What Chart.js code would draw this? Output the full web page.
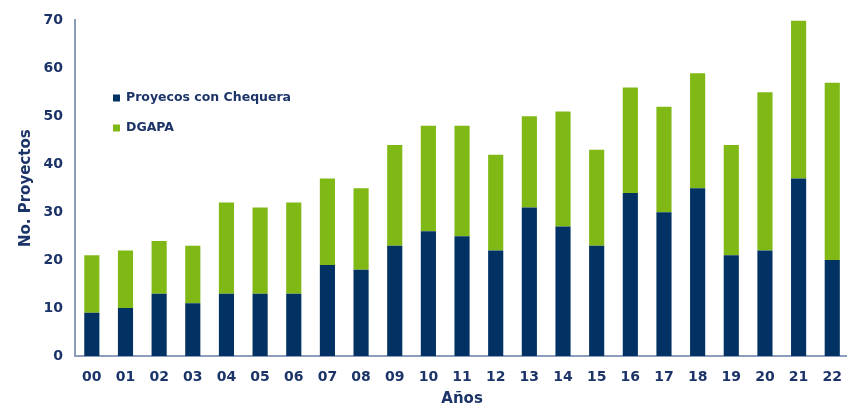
<!DOCTYPE html>
<html>
<head>
<meta charset="utf-8">
<script src="https://cdn.jsdelivr.net/npm/chart.js@4/dist/chart.umd.min.js"></script>
<style>
html,body{margin:0;padding:0;background:#fff;overflow:hidden;}
#wrap{position:relative;width:855px;height:408px;}
</style>
</head>
<body>
<div id="wrap"><canvas id="c"></canvas></div>
<script>
const categories = ["00","01","02","03","04","05","06","07","08","09","10","11","12","13","14","15","16","17","18","19","20","21","22"];
const chequera = [9,10,13,11,13,13,13,19,18,23,26,25,22,31,27,23,34,30,35,21,22,37,20];
const dgapa    = [12,12,11,12,19,18,19,18,17,21,22,23,20,19,24,20,22,22,24,23,33,33,37];
const yTicks = [0,10,20,30,40,50,60,70];

const navy = '#023263';
const green = '#80b916';
const textCol = '#1c3468';
const axisCol = '#8c9cbc';
const FONT = '"DejaVu Sans", Verdana, sans-serif';

const legendPlugin = {
  id: 'insideLegend',
  afterDraw(chart) {
    const ctx = chart.ctx;
    ctx.save();
    ctx.font = 'bold 12.5px ' + FONT;
    ctx.textBaseline = 'middle';
    chart.data.datasets.forEach((ds, i) => {
      const y = 98 + i * 30;
      ctx.fillStyle = ds.backgroundColor;
      ctx.fillRect(113, y - 3.5, 7, 7);
      ctx.fillStyle = textCol;
      ctx.fillText(ds.label, 126, y);
    });
    ctx.restore();
  }
};

new Chart(document.getElementById('c'), {
  type: 'bar',
  data: {
    labels: categories,
    datasets: [
      { label: 'Proyecos con Chequera', data: chequera, backgroundColor: navy },
      { label: 'DGAPA', data: dgapa, backgroundColor: green }
    ]
  },
  options: {
    responsive: true,
    maintainAspectRatio: false,
    animation: false,
    layout: { padding: { top: 18, right: 0, left: 0, bottom: 0 } },
    datasets: { bar: { barPercentage: 0.45, categoryPercentage: 1.0 } },
    plugins: { legend: { display: false }, tooltip: { enabled: false } },
    scales: {
      x: {
        stacked: true,
        grid: { display: false, drawTicks: false },
        border: { display: true, color: axisCol, width: 2 },
        ticks: { color: textCol, font: { family: FONT, weight: 'bold', size: 14 }, padding: 13, maxRotation: 0, autoSkip: false },
        title: { display: true, text: 'Años', color: textCol, font: { family: FONT, weight: 'bold', size: 15 }, padding: { top: 0, bottom: 0 } },
        afterFit(s) { s.height = 52; }
      },
      y: {
        stacked: true,
        min: 0, max: 70,
        afterBuildTicks(s) { s.ticks = yTicks.map(v => ({ value: v })); },
        grid: { display: false, drawTicks: false },
        border: { display: true, color: axisCol, width: 2 },
        ticks: { color: textCol, font: { family: FONT, weight: 'bold', size: 14 }, padding: 12 },
        title: { display: true, text: 'No. Proyectos', color: textCol, font: { family: FONT, weight: 'bold', size: 15 }, padding: { top: 17, bottom: 0 } },
        afterFit(s) { s.width = 75; }
      }
    }
  },
  plugins: [legendPlugin]
});
</script>
</body>
</html>
